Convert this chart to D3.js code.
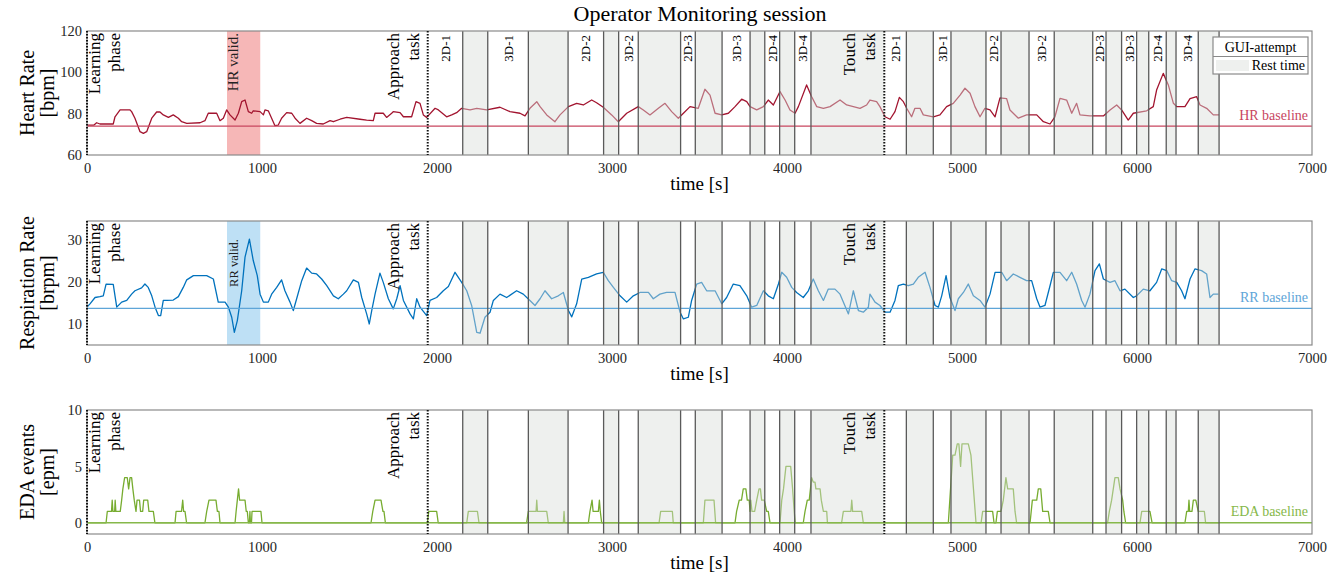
<!DOCTYPE html>
<html>
<head>
<meta charset="utf-8">
<script src="https://cdn.jsdelivr.net/npm/d3@7"></script>
<style>
  body { margin: 0; background: #fff; }
  svg text { font-family: "Liberation Serif", "DejaVu Serif", serif; }
</style>
</head>
<body>
<svg id="chart"></svg>
<script>
// ---- data ----
var timeTicks = [0, 1000, 2000, 3000, 4000, 5000, 6000, 7000];
var hrTicks = [60, 80, 100, 120];
var rrTicks = [10, 20, 30];
var edaTicks = [0, 5, 10];

var hrBaseline = 74;
var rrBaseline = 13.7;
var edaBaseline = 0;

// [time s, bpm]
var hrSeries = [
  [0,74.5],[40,74.5],[55,75.6],[74,75],[150,75],[160,78.5],[189,81.8],[246,81.8],[255,81],[274,77.8],
  [303,71.3],[322,70.5],[341,71.3],[370,77.8],[398,80.8],[417,80.8],[436,79.4],[465,78.2],[493,79.4],
  [522,77.8],[541,76.1],[570,75.3],[646,75.6],[674,76.6],[693,80.2],[741,80.2],[760,76.6],[779,77.8],
  [798,81.8],[817,79.4],[846,76.9],[865,80.2],[884,85.8],[903,86.6],[922,81],[941,80.2],[950,81.4],
  [989,81],[1008,79.4],[1017,81.8],[1036,81.4],[1055,77.8],[1074,74.2],[1093,74.5],[1112,77.8],
  [1141,80.5],[1170,80.2],[1189,77.8],[1217,75.3],[1255,77.8],[1284,76.6],[1312,75.3],[1350,75],
  [1389,76.6],[1408,76.1],[1446,77.3],[1484,78.2],[1560,77.3],[1598,76.9],[1636,76.6],[1646,80.2],
  [1693,80.2],[1712,78.2],[1741,80.2],[1750,81],[1789,80.5],[1808,78.5],[1855,78.5],[1880,85.8],
  [1903,85],[1922,79.4],[1941,78.2],[1989,82.6],[2008,81.8],[2055,78.5],[2084,79.4],[2112,80.5],
  [2141,82.6],[2189,81.8],[2227,82.6],[2284,81.8],[2360,83.1],[2417,81],[2474,80.2],[2503,78.9],
  [2531,82.6],[2570,85.8],[2589,83.4],[2627,79.4],[2674,76.1],[2703,79.4],[2751,83.4],[2798,85],
  [2836,84.2],[2884,86.6],[2912,85.3],[2950,83.1],[2998,79.4],[3036,76.1],[3084,80.2],[3150,83.4],
  [3179,81.8],[3217,79.4],[3265,82.6],[3303,85],[3341,81],[3379,77.8],[3408,80.2],[3446,83.4],
  [3493,82.6],[3531,91.8],[3560,89],[3589,80.2],[3627,79.4],[3665,80.2],[3703,83.4],[3741,87],
  [3770,85.8],[3789,83.4],[3827,81.8],[3865,83.4],[3893,86.6],[3922,84.2],[3960,90.7],[3989,86.6],
  [4017,81.8],[4046,80.2],[4065,83.4],[4112,93.9],[4141,88.2],[4170,83.4],[4208,82.6],[4246,83.4],
  [4303,86.6],[4341,84.2],[4379,83.4],[4417,82.6],[4455,84.2],[4474,86.6],[4512,85.8],[4531,83.4],
  [4560,78.5],[4589,77.3],[4617,81],[4642,87.9],[4665,85.8],[4684,82.6],[4712,78.5],[4731,82.6],
  [4760,82.6],[4779,79.4],[4836,78.5],[4874,79.4],[4912,83.4],[4950,85],[4989,89],[5017,92.3],
  [5046,89.9],[5074,83.4],[5103,78.5],[5131,82.6],[5160,81.8],[5189,78.5],[5217,87.6],[5255,87.3],
  [5274,81.8],[5322,77.8],[5369,79.4],[5427,79.4],[5465,76.1],[5503,75],[5531,78.5],[5560,87.4],
  [5598,86.6],[5627,80.2],[5655,85],[5674,79.4],[5731,78.9],[5808,78.9],[5846,81.8],[5884,84.2],
  [5912,81.8],[5950,76.9],[5979,80.2],[6055,81.4],[6093,83.4],[6112,91.4],[6150,99.5],[6179,93.9],
  [6208,85],[6227,83.4],[6274,83.4],[6303,87.3],[6341,88.2],[6360,84.2],[6398,82.6],[6436,79.4],
  [6469,79.4]
];

// [time s, brpm]
var rrSeries = [
  [0,14],[17,14.8],[46,16.3],[74,16.5],[93,16.7],[109,19.5],[150,19.4],[160,16.7],[170,14],[198,15.2],
  [227,15.6],[255,17.1],[274,17.9],[312,18.6],[331,19.5],[350,18.7],[370,16.7],[389,14],[408,12],
  [421,12],[436,15.6],[455,15.6],[493,15.7],[522,16.5],[550,18.7],[570,20.5],[608,21.5],[646,21.5],
  [684,21.5],[722,20.7],[750,15.2],[789,15.2],[808,14],[827,11.6],[842,8],[859,10.8],[884,17.9],
  [903,25.9],[928,30.2],[950,25.1],[973,21.5],[989,17.1],[1008,15.2],[1036,15.2],[1055,17.1],
  [1084,18.7],[1112,20.5],[1131,17.9],[1160,15.2],[1179,13.2],[1198,16],[1227,20.3],[1255,23.3],
  [1284,22.1],[1312,21.9],[1341,20.7],[1370,19.1],[1408,16.7],[1436,16],[1465,17.1],[1484,17.9],
  [1522,20.5],[1551,19.9],[1570,16.3],[1598,12.4],[1613,10],[1627,13.2],[1646,17.1],[1674,22.1],
  [1693,19.9],[1722,16],[1750,13.6],[1770,16],[1789,19.1],[1808,15.6],[1846,12.4],[1865,11.2],
  [1884,16],[1903,14],[1941,12],[1960,15.6],[1998,16.3],[2036,17.9],[2065,18.9],[2103,22.3],
  [2141,19.9],[2170,17.9],[2198,14.4],[2227,8],[2246,7.8],[2274,11.6],[2303,12.8],[2322,15.6],
  [2360,17.1],[2398,16.3],[2455,17.9],[2493,17.1],[2531,15.6],[2560,14.4],[2589,16],[2617,17.9],
  [2655,16],[2693,16.7],[2722,17.5],[2751,13.2],[2770,11.7],[2798,14.8],[2827,20.7],[2865,21.1],
  [2912,21.9],[2950,22.3],[2979,20.3],[3008,18.7],[3046,16.7],[3084,15.2],[3122,16.7],[3160,17.5],
  [3208,17.5],[3236,16],[3274,17.1],[3312,17.5],[3360,17.5],[3389,12.8],[3408,11.2],[3436,11.6],
  [3455,15.6],[3484,19.5],[3512,19.9],[3541,17.9],[3589,17.9],[3627,14.8],[3655,16.3],[3693,19.5],
  [3731,19.1],[3770,16.7],[3798,14],[3827,14.4],[3865,17.9],[3893,16.7],[3922,16],[3951,19.5],
  [3970,22.3],[3998,21.1],[4027,18.7],[4055,17.5],[4093,16.3],[4122,17.9],[4150,20.7],[4179,17.9],
  [4208,15.6],[4236,18.3],[4274,18.3],[4303,17.1],[4351,12.4],[4379,17.9],[4408,13.2],[4436,12.8],
  [4465,14],[4474,17.1],[4503,15.2],[4531,14.4],[4560,12.8],[4589,12.8],[4617,15.6],[4636,19.1],
  [4665,19.5],[4693,19.1],[4722,19.5],[4750,21.1],[4789,22.3],[4817,18.7],[4846,14.4],[4865,14],
  [4884,16.7],[4909,21.5],[4931,16.3],[4960,13.2],[4979,16],[5008,17.5],[5036,19.5],[5065,16.7],
  [5103,15.6],[5131,14],[5160,17.1],[5189,22.3],[5227,22.3],[5255,20.3],[5293,21.9],[5331,21.1],
  [5369,20.3],[5398,20.3],[5427,16],[5446,14],[5474,14.4],[5503,19.1],[5522,22.3],[5560,22.3],
  [5598,20.3],[5627,22.3],[5655,19.5],[5684,15.6],[5703,14],[5731,17.1],[5760,22.7],[5785,24.3],
  [5808,20.7],[5846,19.9],[5874,20.3],[5903,17.9],[5931,18.3],[5979,16.3],[5998,16.7],[6036,18.3],
  [6074,17.9],[6112,19.9],[6141,23.1],[6170,22.7],[6198,20.3],[6227,19.9],[6255,17.9],[6274,16],
  [6303,20.7],[6331,23.1],[6369,22.7],[6398,21.9],[6417,16.3],[6436,17.1],[6465,17.1]
];

// [time s, events per minute]
var edaSeries = [
  [0,0],[109,0],[116,1],[140,1],[144,2],[148,1],[158,1],[161,2],[165,1],[190,1],[198,2],[205,3],
  [215,4],[230,4],[238,3],[246,4],[255,4],[262,3],[270,2],[280,1],[286,2],[300,2],[306,1],[318,1],
  [324,2],[347,2],[354,1],[379,1],[388,0],
  [503,0],[509,1],[540,1],[547,2],[552,1],[560,1],[569,0],
  [674,0],[684,1],[697,2],[737,2],[745,1],[754,1],[760,0],
  [846,0],[852,1],[859,2],[866,3],[872,2],[903,2],[910,1],[916,1],[922,0],[928,0],[931,1],[934,0],
  [940,0],[943,1],[994,1],[1000,0],
  [1623,0],[1633,1],[1646,2],[1680,2],[1691,1],[1697,1],[1705,0],
  [1945,0],[1953,1],[1998,1],[2007,0],
  [2170,0],[2179,1],[2231,1],[2240,0],
  [2512,0],[2522,1],[2566,1],[2570,2],[2574,1],[2627,1],[2636,0],
  [2722,0],[2726,1],[2730,0],
  [2865,0],[2874,1],[2886,2],[2892,1],[2922,1],[2928,2],[2933,1],[2941,0],
  [3269,0],[3278,1],[3345,1],[3350,0],
  [3522,0],[3531,2],[3583,2],[3592,0],
  [3703,0],[3712,1],[3727,2],[3740,2],[3750,3],[3765,3],[3773,2],[3784,2],[3789,1],[3793,2],[3800,1],
  [3815,1],[3827,2],[3840,3],[3848,3],[3855,2],[3870,2],[3884,1],[3893,1],[3903,0],
  [3960,0],[3970,2],[3980,3],[3994,5],[4021,5],[4032,3],[4046,0],
  [4093,0],[4103,1],[4116,2],[4127,2],[4141,4],[4150,3.6],[4160,3.6],[4165,3],[4189,3],[4196,2],
  [4208,1],[4227,1],[4231,0],
  [4312,0],[4322,1],[4365,1],[4370,2],[4375,1],[4427,1],[4436,0],
  [4922,0],[4947,6],[4960,6],[4973,7],[4982,7],[4992,5],[5000,7],[5036,7],[5051,6],[5080,0],
  [5109,0],[5118,1],[5175,1],[5183,0],
  [5194,0],[5202,1],[5223,1],[5236,2],[5251,4],[5261,3],[5293,3],[5303,1],[5312,0],
  [5389,0],[5402,2],[5427,2],[5436,3],[5450,3],[5461,1],[5493,1],[5503,0],
  [5832,0],[5842,1],[5855,2],[5874,4],[5893,4],[5903,3],[5918,2],[5925,1],[5935,0],
  [6017,0],[6027,1],[6074,1],[6086,0],
  [6274,0],[6284,1],[6293,1],[6297,2],[6301,1],[6314,1],[6322,2],[6336,2],[6350,1],[6385,1],
  [6392,0],[6469,0]
];

// GUI attempts [start, end, label]
var attempts = [
  [1947,2147,"2D-1"],[2290,2522,"3D-1"],[2749,2952,"2D-2"],[3038,3150,"3D-2"],
  [3392,3476,"2D-3"],[3629,3789,"3D-3"],[3873,3958,"2D-4"],[4044,4137,"3D-4"],
  [4556,4682,"2D-1"],[4836,4937,"3D-1"],[5137,5223,"2D-2"],[5383,5527,"3D-2"],
  [5747,5823,"2D-3"],[5912,5998,"3D-3"],[6067,6167,"2D-4"],[6223,6350,"3D-4"]
];
// rest periods [start, end]
var rests = [
  [2147,2290],[2522,2749],[2952,3038],[3150,3392],[3476,3629],[3789,3873],[3958,4044],[4137,4556],
  [4682,4836],[4937,5137],[5223,5383],[5527,5747],[5823,5912],[5998,6067],[6167,6223],[6350,6469]
];
// phase starts (dotted lines) and their labels
var phaseLines = [0, 1947, 4556];
var phaseLabels = [
  { t: 0, side: "right", lines: ["Learning", "phase"] },
  { t: 1947, side: "left", lines: ["Approach", "task"] },
  { t: 4556, side: "left", lines: ["Touch", "task"] }
];
var validWindow = [800, 990];

// ---- layout ----
var W = 1341, H = 580;
var svg = d3.select("#chart").attr("width", W).attr("height", H);

var x = d3.scaleLinear().domain([0, 7000]).range([87, 1312]);

// every boundary that gets a solid line
var solidLines = [];
attempts.forEach(function (a) { solidLines.push(a[0], a[1]); });
rests.forEach(function (r) { solidLines.push(r[0], r[1]); });
solidLines = Array.from(new Set(solidLines)).filter(function (t) { return phaseLines.indexOf(t) < 0; });

var panels = [
  { top: 31, bottom: 155, domain: [60, 120], ticks: hrTicks, data: hrSeries,
    color: "#a2142f", base: hrBaseline, baseColor: "#c8465f", baseText: "HR baseline",
    ylab: ["Heart Rate", "[bpm]"], bandColor: "#f6b7b7", bandText: "HR valid.", bandFont: 15, bandTop: 33,
    tasks: true, legend: true },
  { top: 221, bottom: 345, domain: [5, 34.5], ticks: rrTicks, data: rrSeries,
    color: "#0072bd", base: rrBaseline, baseColor: "#5ea5d8", baseText: "RR baseline",
    ylab: ["Respiration Rate", "[brpm]"], bandColor: "#bee0f5", bandText: "RR valid.", bandFont: 12.5, bandTop: 239,
    tasks: false },
  { top: 410, bottom: 534, domain: [-1, 10], ticks: edaTicks, data: edaSeries,
    color: "#77ac30", base: edaBaseline, baseColor: "#86b84a", baseText: "EDA baseline",
    ylab: ["EDA events", "[epm]"], tasks: false }
];

// title
svg.append("text")
  .attr("x", 700).attr("y", 21)
  .attr("text-anchor", "middle")
  .style("font-size", "22px")
  .text("Operator Monitoring session");

panels.forEach(function (p) {
  var y = d3.scaleLinear().domain(p.domain).range([p.bottom, p.top]);
  var g = svg.append("g");
  var x0 = x(0), x1 = x(7000);

  // validation window band
  if (p.bandColor) {
    g.append("rect")
      .attr("x", x(validWindow[0])).attr("width", x(validWindow[1]) - x(validWindow[0]))
      .attr("y", p.top).attr("height", p.bottom - p.top)
      .attr("fill", p.bandColor);
  }

  // signal
  var line = d3.line().x(function (d) { return x(d[0]); }).y(function (d) { return y(d[1]); });
  g.append("path")
    .datum(p.data)
    .attr("d", line)
    .attr("fill", "none")
    .attr("stroke", p.color)
    .attr("stroke-width", 1.3)
    .attr("stroke-linejoin", "round");

  // rest periods, drawn over the signal so it looks faded
  g.selectAll("rect.rest")
    .data(rests)
    .enter()
    .append("rect")
    .attr("class", "rest")
    .attr("x", function (d) { return x(d[0]); })
    .attr("width", function (d) { return x(d[1]) - x(d[0]); })
    .attr("y", p.top).attr("height", p.bottom - p.top)
    .attr("fill", "#d9ddd9")
    .attr("fill-opacity", 0.45);

  // baseline
  g.append("line")
    .attr("x1", x0).attr("x2", x1)
    .attr("y1", y(p.base)).attr("y2", y(p.base))
    .attr("stroke", p.baseColor)
    .attr("stroke-width", 1.3);
  g.append("text")
    .attr("x", 1308).attr("y", y(p.base) - 6.5)
    .attr("text-anchor", "end")
    .attr("fill", p.baseColor)
    .style("font-size", "14px")
    .text(p.baseText);

  // boundaries
  g.selectAll("line.bound")
    .data(solidLines)
    .enter()
    .append("line")
    .attr("class", "bound")
    .attr("x1", function (d) { return x(d); }).attr("x2", function (d) { return x(d); })
    .attr("y1", p.top).attr("y2", p.bottom)
    .attr("stroke", "#5a5a5a")
    .attr("stroke-width", 1.3);

  // panel box
  g.append("rect")
    .attr("x", x0).attr("y", p.top)
    .attr("width", x1 - x0).attr("height", p.bottom - p.top)
    .attr("fill", "none")
    .attr("stroke", "#8a8a8a")
    .attr("stroke-width", 1.2);

  g.selectAll("line.phase")
    .data(phaseLines)
    .enter()
    .append("line")
    .attr("class", "phase")
    .attr("x1", function (d) { return x(d); }).attr("x2", function (d) { return x(d); })
    .attr("y1", p.top).attr("y2", p.bottom)
    .attr("stroke", "#111")
    .attr("stroke-width", 2)
    .attr("stroke-dasharray", "1.6,1.4");

  // band label
  if (p.bandText) {
    g.append("text")
      .attr("transform", "translate(" + (x(validWindow[0]) + 11) + "," + p.bandTop + ") rotate(-90)")
      .attr("text-anchor", "end")
      .attr("fill", "#222")
      .style("font-size", p.bandFont + "px")
      .text(p.bandText);
  }

  // phase labels
  phaseLabels.forEach(function (ph) {
    var lx = x(ph.t);
    ph.lines.forEach(function (txt, i) {
      var bx = ph.side === "right" ? lx + 13 + i * 20 : lx - 29 + i * 20;
      g.append("text")
        .attr("transform", "translate(" + bx + "," + (p.top + 2) + ") rotate(-90)")
        .attr("text-anchor", "end")
        .style("font-size", "17px")
        .text(txt);
    });
  });

  // attempt labels
  if (p.tasks) {
    g.selectAll("text.task")
      .data(attempts)
      .enter()
      .append("text")
      .attr("class", "task")
      .attr("transform", function (d) {
        return "translate(" + (x((d[0] + d[1]) / 2) + 4.5) + "," + (p.top + 4) + ") rotate(-90)";
      })
      .attr("text-anchor", "end")
      .style("font-size", "13px")
      .text(function (d) { return d[2]; });
  }

  // axes
  var xa = g.append("g")
    .attr("transform", "translate(0," + p.bottom + ")")
    .call(d3.axisBottom(x).tickValues(timeTicks).tickSize(0).tickPadding(8).tickFormat(d3.format("d")));
  var ya = g.append("g")
    .attr("transform", "translate(" + x0 + ",0)")
    .call(d3.axisLeft(y).tickValues(p.ticks).tickSize(0).tickPadding(5));
  [xa, ya].forEach(function (a) {
    a.select(".domain").remove();
    a.selectAll("text")
      .attr("fill", "#262626")
      .style("font-size", "14.5px")
      .style("font-family", "'Liberation Serif', serif");
  });

  g.append("text")
    .attr("x", (x0 + x1) / 2).attr("y", p.bottom + 35)
    .attr("text-anchor", "middle")
    .style("font-size", "19px")
    .text("time [s]");

  var cy = (p.top + p.bottom) / 2;
  p.ylab.forEach(function (txt, i) {
    g.append("text")
      .attr("transform", "translate(" + (34 + i * 20) + "," + cy + ") rotate(-90)")
      .attr("text-anchor", "middle")
      .style("font-size", "20px")
      .text(txt);
  });

  // legend
  if (p.legend) {
    var lg = svg.append("g");
    lg.append("rect")
      .attr("x", 1213).attr("y", 37).attr("width", 95).attr("height", 37)
      .attr("fill", "#fff").attr("stroke", "#8a8a8a").attr("stroke-width", 1.2);
    lg.append("line")
      .attr("x1", 1213).attr("x2", 1308).attr("y1", 56.5).attr("y2", 56.5)
      .attr("stroke", "#8a8a8a").attr("stroke-width", 1);
    lg.append("text")
      .attr("x", 1260.5).attr("y", 51.5)
      .attr("text-anchor", "middle")
      .style("font-size", "14px")
      .text("GUI-attempt");
    lg.append("rect")
      .attr("x", 1216).attr("y", 60).attr("width", 33).attr("height", 11)
      .attr("fill", "#eef0ee");
    lg.append("text")
      .attr("x", 1305).attr("y", 69.5)
      .attr("text-anchor", "end")
      .style("font-size", "14px")
      .text("Rest time");
  }
});
</script>
</body>
</html>
